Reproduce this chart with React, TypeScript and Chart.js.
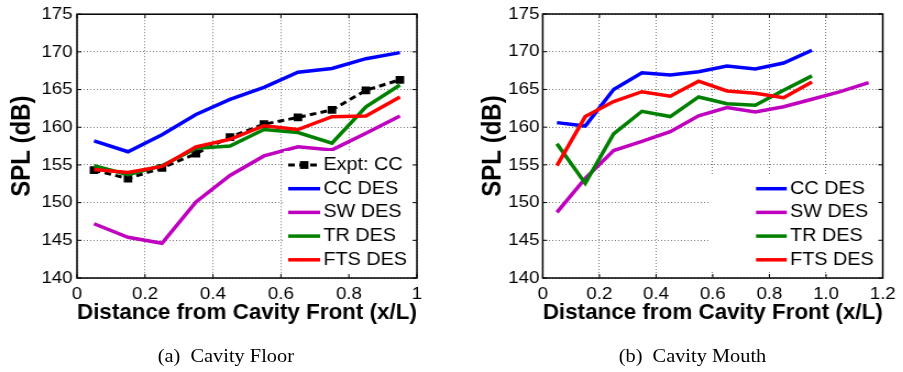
import React, { useEffect, useRef } from "react";
import { Chart, registerables } from "chart.js";

Chart.register(...registerables);

// ---------------- data ----------------
const floorX = [0.05, 0.15, 0.25, 0.35, 0.45, 0.55, 0.65, 0.75, 0.85, 0.95];
const floorExptCC = [154.3, 153.2, 154.6, 156.5, 158.7, 160.4, 161.3, 162.3, 164.9, 166.3];
const floorCC = [158.2, 156.75, 159.0, 161.7, 163.7, 165.3, 167.3, 167.8, 169.1, 169.9];
const floorSW = [147.2, 145.4, 144.6, 150.1, 153.6, 156.2, 157.4, 157.0, 159.2, 161.5];
const floorTR = [154.9, 153.7, 154.9, 157.2, 157.5, 159.7, 159.3, 157.9, 162.7, 165.6];
const floorFTS = [154.4, 154.0, 154.8, 157.4, 158.4, 160.2, 159.7, 161.4, 161.5, 164.0];

const mouthX = [0.05, 0.15, 0.25, 0.35, 0.45, 0.55, 0.65, 0.75, 0.85, 0.95];
const mouthXSW = [0.05, 0.15, 0.25, 0.35, 0.45, 0.55, 0.65, 0.75, 0.85, 0.95, 1.05, 1.15];
const mouthCC = [160.6, 160.15, 165.0, 167.2, 166.9, 167.35, 168.1, 167.7, 168.5, 170.2];
const mouthSW = [148.7, 153.2, 156.9, 158.1, 159.4, 161.5, 162.6, 162.0, 162.7, 163.7, 164.7, 165.9];
const mouthTR = [157.8, 152.55, 159.1, 162.1, 161.4, 164.0, 163.1, 162.9, 164.9, 166.8];
const mouthFTS = [154.9, 161.4, 163.4, 164.7, 164.1, 166.1, 164.8, 164.5, 163.9, 166.0];

const yTicks = [140, 145, 150, 155, 160, 165, 170, 175];
const floorXTicks = [0, 0.2, 0.4, 0.6, 0.8, 1];
const floorXTickLabels = ["0", "0.2", "0.4", "0.6", "0.8", "1"];
const mouthXTicks = [0, 0.2, 0.4, 0.6, 0.8, 1.0, 1.2];
const mouthXTickLabels = ["0", "0.2", "0.4", "0.6", "0.8", "1.0", "1.2"];

const seriesLabels = ["Expt: CC", "CC DES", "SW DES", "TR DES", "FTS DES"];
const xTitle = "Distance from Cavity Front (x/L)";
const yTitle = "SPL (dB)";
const captions = ["(a)\u2002Cavity Floor", "(b)\u2002Cavity Mouth"];

// ---------------- styles ----------------
const SANS = "'Liberation Sans', Arial, Helvetica, sans-serif";
const SERIF = "'Liberation Serif', 'Times New Roman', Times, serif";
const GRID = "#7a7a7a";
const C_EXPT = "#000000";
const C_CC = "#0000ff";
const C_SW = "#bf00bf";
const C_TR = "#008000";
const C_FTS = "#ff0000";

const CANVAS_H = 330;

const pts = (xs: number[], ys: number[]) => xs.map((x, i) => ({ x, y: ys[i] }));

const lineDs = (label: string, color: string, xs: number[], ys: number[], order: number) => ({
  label,
  data: pts(xs, ys),
  borderColor: color,
  backgroundColor: color,
  borderWidth: 3.5,
  pointRadius: 0,
  tension: 0,
  fill: false,
  order,
});

const exptDs = (label: string, xs: number[], ys: number[]) => ({
  label,
  data: pts(xs, ys),
  borderColor: C_EXPT,
  backgroundColor: C_EXPT,
  borderWidth: 3,
  borderDash: [6, 4],
  pointStyle: "rect",
  pointRadius: 5.5,
  pointBorderWidth: 0,
  pointBackgroundColor: C_EXPT,
  tension: 0,
  fill: false,
  order: 4,
});

type PanelParams = {
  xMax: number;
  xTicks: number[];
  xTickLabels: string[];
  yAxisWidth: number;
  yTitlePad: number;
  yTickPad: number;
  padRight: number;
  legend: { x1: number; x2: number; tx: number; y0: number; dy: number; box: [number, number, number, number] };
};

const framePlugin = (p: PanelParams) => ({
  id: "matlabFrame",
  afterDraw(chart: any) {
    const { ctx, chartArea: a, scales } = chart;
    ctx.save();
    // legend
    const L = p.legend;
    ctx.fillStyle = "#ffffff";
    ctx.fillRect(L.box[0], L.box[1], L.box[2] - L.box[0], L.box[3] - L.box[1]);
    chart.data.datasets.forEach((ds: any, i: number) => {
      const y = L.y0 + i * L.dy;
      ctx.strokeStyle = ds.borderColor;
      ctx.lineWidth = ds.borderWidth;
      ctx.setLineDash(ds.borderDash || []);
      ctx.beginPath();
      ctx.moveTo(L.x1, y);
      ctx.lineTo(L.x2, y);
      ctx.stroke();
      ctx.setLineDash([]);
      if (ds.pointStyle === "rect") {
        const s = ds.pointRadius * Math.SQRT1_2;
        ctx.fillStyle = ds.pointBackgroundColor;
        ctx.fillRect((L.x1 + L.x2) / 2 - s, y - s, 2 * s, 2 * s);
      }
      ctx.fillStyle = "#000";
      ctx.font = `18px ${SANS}`;
      ctx.textAlign = "left";
      ctx.textBaseline = "middle";
      ctx.fillText(ds.label, L.tx, y);
    });
    // box
    ctx.setLineDash([]);
    ctx.strokeStyle = "#000";
    ctx.lineWidth = 1.5;
    ctx.strokeRect(a.left, a.top, a.right - a.left, a.bottom - a.top);
    // inward ticks
    const tl = 4;
    ctx.lineWidth = 1;
    ctx.beginPath();
    p.xTicks.forEach((v) => {
      const px = scales.x.getPixelForValue(v);
      ctx.moveTo(px, a.bottom);
      ctx.lineTo(px, a.bottom - tl);
      ctx.moveTo(px, a.top);
      ctx.lineTo(px, a.top + tl);
    });
    yTicks.forEach((v) => {
      const py = scales.y.getPixelForValue(v);
      ctx.moveTo(a.left, py);
      ctx.lineTo(a.left + tl, py);
      ctx.moveTo(a.right, py);
      ctx.lineTo(a.right - tl, py);
    });
    ctx.stroke();
    ctx.restore();
  },
});

const makeConfig = (datasets: any[], p: PanelParams) => ({
  type: "line",
  data: { datasets },
  plugins: [framePlugin(p)],
  options: {
    responsive: false,
    animation: false,
    events: [],
    layout: { padding: { left: 0, top: 14, right: p.padRight, bottom: 0 } },
    plugins: { legend: { display: false }, tooltip: { enabled: false }, title: { display: false } },
    scales: {
      x: {
        type: "linear",
        min: 0,
        max: p.xMax,
        afterBuildTicks: (s: any) => {
          s.ticks = p.xTicks.map((v) => ({ value: v }));
        },
        afterFit: (s: any) => {
          s.height = 52;
        },
        ticks: {
          autoSkip: false,
          maxRotation: 0,
          padding: 6,
          color: "#000",
          font: { family: SANS, size: 17 },
          callback: (v: number) => {
            const i = p.xTicks.findIndex((t) => Math.abs(t - v) < 1e-9);
            return i >= 0 ? p.xTickLabels[i] : "";
          },
        },
        grid: { color: GRID, lineWidth: 1, drawTicks: false },
        border: { display: false, dash: [1, 2] },
        title: {
          display: true,
          text: xTitle,
          color: "#000",
          font: { family: SANS, size: 22, weight: "bold" },
          padding: { top: 0, bottom: 3.4 },
        },
      },
      y: {
        type: "linear",
        min: 140,
        max: 175,
        afterBuildTicks: (s: any) => {
          s.ticks = yTicks.map((v) => ({ value: v }));
        },
        afterFit: (s: any) => {
          s.width = p.yAxisWidth;
        },
        ticks: {
          autoSkip: false,
          padding: p.yTickPad,
          color: "#000",
          font: { family: SANS, size: 17 },
          callback: (v: number) => String(v),
        },
        grid: { color: GRID, lineWidth: 1, drawTicks: false },
        border: { display: false, dash: [1, 2] },
        title: {
          display: true,
          text: yTitle,
          color: "#000",
          font: { family: SANS, size: 24, weight: "bold" },
          padding: { top: p.yTitlePad, bottom: 0 },
        },
      },
    },
  },
});

const floorParams: PanelParams = {
  xMax: 1,
  xTicks: floorXTicks,
  xTickLabels: floorXTickLabels,
  yAxisWidth: 70,
  yTitlePad: 6.1,
  yTickPad: 4,
  padRight: 31,
  legend: { x1: 262, x2: 291, tx: 294, y0: 165, dy: 23.7, box: [258, 151, 377, 276] },
};

const mouthParams: PanelParams = {
  xMax: 1.2,
  xTicks: mouthXTicks,
  xTickLabels: mouthXTickLabels,
  yAxisWidth: 83.4,
  yTitlePad: 24.1,
  yTickPad: 3,
  padRight: 18.5,
  legend: { x1: 277.3, x2: 305.2, tx: 308.2, y0: 188.7, dy: 23.7, box: [235.5, 176, 390, 272] },
};

const floorDatasets = () => [
  exptDs(seriesLabels[0], floorX, floorExptCC),
  lineDs(seriesLabels[1], C_CC, floorX, floorCC, 3),
  lineDs(seriesLabels[2], C_SW, floorX, floorSW, 2),
  lineDs(seriesLabels[3], C_TR, floorX, floorTR, 1),
  lineDs(seriesLabels[4], C_FTS, floorX, floorFTS, 0),
];

const mouthDatasets = () => [
  lineDs(seriesLabels[1], C_CC, mouthX, mouthCC, 3),
  lineDs(seriesLabels[2], C_SW, mouthXSW, mouthSW, 2),
  lineDs(seriesLabels[3], C_TR, mouthX, mouthTR, 1),
  lineDs(seriesLabels[4], C_FTS, mouthX, mouthFTS, 0),
];

function Panel({ make, width, left }: { make: () => any; width: number; left: number }) {
  const ref = useRef<HTMLCanvasElement | null>(null);
  useEffect(() => {
    const chart = new Chart(ref.current as HTMLCanvasElement, make());
    return () => chart.destroy();
  }, []);
  return (
    <canvas
      ref={ref}
      width={width}
      height={CANVAS_H}
      style={{ position: "absolute", left, top: 0, width, height: CANVAS_H, display: "block" }}
    />
  );
}

const captionStyle = (center: number): React.CSSProperties => ({
  position: "absolute",
  left: center - 110,
  width: 220,
  top: 344.5,
  lineHeight: "22px",
  fontSize: "18.5px",
  fontFamily: SERIF,
  textAlign: "center",
  color: "#000",
  whiteSpace: "nowrap",
});

export default function App() {
  return (
    <div
      style={{
        position: "fixed",
        left: 0,
        top: 0,
        width: 903,
        height: 372,
        background: "#fff",
        overflow: "hidden",
      }}
    >
      <div
        style={{
          position: "absolute",
          left: 0,
          top: 0,
          width: 821,
          height: 372,
          transform: "scaleX(1.1)",
          transformOrigin: "0 0",
        }}
      >
        <Panel make={() => makeConfig(floorDatasets(), floorParams)} width={410} left={0} />
        <Panel make={() => makeConfig(mouthDatasets(), mouthParams)} width={411} left={410} />
        <div style={captionStyle(205.3)}>{captions[0]}</div>
        <div style={captionStyle(629.5)}>{captions[1]}</div>
      </div>
    </div>
  );
}
